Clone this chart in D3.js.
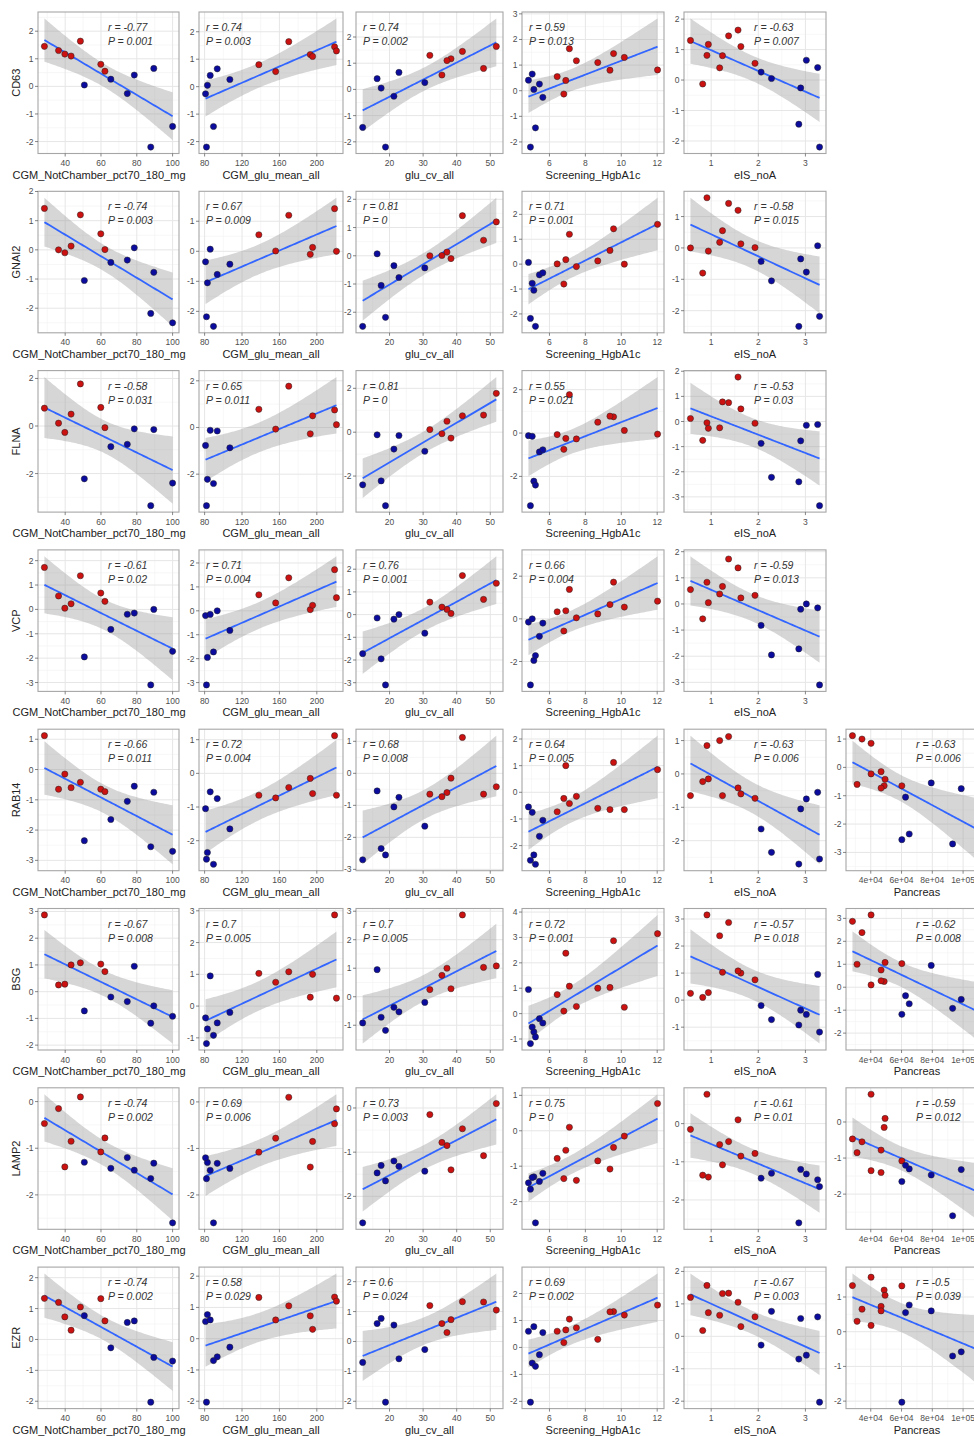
<!DOCTYPE html>
<html>
<head>
<meta charset="utf-8">
<script src="https://cdn.jsdelivr.net/npm/d3@7"></script>
<style>
  body { margin: 0; background: #fff; }
  svg { font-family: "Liberation Sans", Arial, sans-serif; }
</style>
</head>
<body>
<div id="chart"></div>
<script>
// 17 subjects: S1..S10 (red group), B1..B7 (blue group)
const subjects = ["S1","S2","S3","S4","S5","S6","S7","S8","S9","S10","B1","B2","B3","B4","B5","B6","B7"];
const group = ["red","red","red","red","red","red","red","red","red","red","blue","blue","blue","blue","blue","blue","blue"];

// clinical variables (null = not measured)
const pct70    = [28.4, 36.3, 39.8, 43.3, 48.5, 59.9, 62.2, null, null, null, 50.7, 65.5, 74.7, 78.6, 89.5, 87.8, 100];
const gluMean  = [219, 221, 193, 195.5, 170, 138, 156, null, null, null, 83, 107, 81, 86, 93.5, 82, 89.5];
const gluCv    = [41.7, 32.0, 38.3, 37.1, 51.8, 48.0, 35.6, null, null, null, 17.5, 30.5, 21.3, 16.3, 22.8, 18.8, 12.0];
const hba1c    = [9.57, 10.17, 7.5, 8.69, 7.11, 9.37, 6.43, 6.8, 6.91, 12.02, 5.13, 5.44, 5.63, 4.83, 5.04, 4.94, 5.22];
const eisNoA   = [1.37, 0.56, 0.94, 1.63, 1.57, 1.24, 1.93, 0.82, 1.18, 0.91, 2.28, 2.06, 2.9, 3.26, 3.02, 3.3, 2.86];
const pancreas = [28100, 48700, 46700, 31100, 49300, 60200, 46700, 40200, 34300, 40200, 65000, 112000, 62600, 79300, 98800, 60200, 93200];

// gene expression, same subject order
const CD63  = [1.45, 1.30, 1.17, 1.10, 1.64, 0.80, 0.55, -0.13, 0.40, 0.81, 0.05, 0.26, -0.26, 0.41, 0.65, -2.2, -1.45];
const GNAI2 = [1.42, 0.0, -0.1, 0.13, 1.2, 0.55, 0.01, -0.8, 0.18, 1.6, -1.05, -0.43, -0.35, 0.07, -0.77, -2.18, -2.5];
const FLNA  = [0.75, 0.12, -0.27, 0.5, 1.77, 0.78, -0.07, -0.75, -0.25, -0.05, -2.22, -0.87, -0.77, -0.12, -0.15, -3.35, -2.4];
const VCP   = [1.72, 0.55, 0.05, 0.23, 1.38, 0.67, 0.33, -0.57, 0.38, 0.83, -1.95, -0.82, -0.2, -0.15, 0.0, -3.1, -1.72];
const RAB14 = [1.12, -0.65, -0.15, -0.6, -0.42, -0.65, -0.73, -0.23, 1.0, 0.85, -2.35, -1.65, -1.05, -0.55, -0.75, -2.55, -2.7];
const BSG   = [2.87, 0.25, 0.28, 1.0, 1.08, 1.03, 0.75, 0.1, 2.38, 3.15, -0.72, -0.2, -0.37, 0.95, -0.53, -1.18, -0.92];
const LAMP2 = [-0.47, -0.15, -1.4, -0.85, 0.1, -1.08, -0.78, -1.35, -0.55, 0.77, -1.3, -1.43, -1.2, -1.47, -1.32, -1.65, -2.6];
const EZR   = [1.33, 1.2, 0.73, 0.3, 1.05, 1.32, 0.6, 0.18, 0.65, 1.57, 0.77, -0.27, 0.55, 0.6, -0.58, -2.03, -0.7];

const geneNames = ["CD63", "GNAI2", "FLNA", "VCP", "RAB14", "BSG", "LAMP2", "EZR"];
const genes = [CD63, GNAI2, FLNA, VCP, RAB14, BSG, LAMP2, EZR];

const varNames = ["CGM_NotChamber_pct70_180_mg", "CGM_glu_mean_all", "glu_cv_all", "Screening_HgbA1c", "eIS_noA", "Pancreas"];
const vars = [pct70, gluMean, gluCv, hba1c, eisNoA, pancreas];
const xTicks = [[40, 60, 80, 100], [80, 120, 160, 200], [20, 30, 40, 50], [6, 8, 10, 12], [1, 2, 3], [40000, 60000, 80000, 100000]];
const xTickLabels = [["40","60","80","100"], ["80","120","160","200"], ["20","30","40","50"], ["6","8","10","12"], ["1","2","3"], ["4e+04","6e+04","8e+04","1e+05"]];

// printed stats, one row per gene ("" = no panel)
const rText = [
  ["-0.77", "0.74", "0.74", "0.59", "-0.63", ""],
  ["-0.74", "0.67", "0.81", "0.71", "-0.58", ""],
  ["-0.58", "0.65", "0.81", "0.55", "-0.53", ""],
  ["-0.61", "0.71", "0.76", "0.66", "-0.59", ""],
  ["-0.66", "0.72", "0.68", "0.64", "-0.63", "-0.63"],
  ["-0.67", "0.7", "0.7", "0.72", "-0.57", "-0.62"],
  ["-0.74", "0.69", "0.73", "0.75", "-0.61", "-0.59"],
  ["-0.74", "0.58", "0.6", "0.69", "-0.67", "-0.5"]
];
const pText = [
  ["0.001", "0.003", "0.002", "0.013", "0.007", ""],
  ["0.003", "0.009", "0", "0.001", "0.015", ""],
  ["0.031", "0.011", "0", "0.021", "0.03", ""],
  ["0.02", "0.004", "0.001", "0.004", "0.013", ""],
  ["0.011", "0.004", "0.008", "0.005", "0.006", "0.006"],
  ["0.008", "0.005", "0.005", "0.001", "0.018", "0.008"],
  ["0.002", "0.006", "0.003", "0", "0.01", "0.012"],
  ["0.002", "0.029", "0.024", "0.002", "0.003", "0.039"]
];
// panels where the y axis uses steps of 2
const yStep2 = [[2, 0], [2, 1], [2, 2], [2, 3], [3, 3]];

const W = 974, H = 1436;
const colLeft = [38, 199, 356, 522, 684, 846];
const colRight = [179, 343, 503, 664, 826, 988];
const rowTop0 = 12, rowGap = 179.3, panelH = 141.5;

const tQuant = { 12: 2.1788, 13: 2.1604, 14: 2.1448, 15: 2.1314, 16: 2.1199 };

const svg = d3.select("#chart").append("svg")
  .attr("width", W).attr("height", H)
  .attr("viewBox", `0 0 ${W} ${H}`);

// lm fit with 95% confidence band, 80 points like geom_smooth
function fit(pts) {
  const n = pts.length;
  const mx = d3.mean(pts, d => d.x), my = d3.mean(pts, d => d.y);
  const sxx = d3.sum(pts, d => (d.x - mx) ** 2);
  const sxy = d3.sum(pts, d => (d.x - mx) * (d.y - my));
  const b = sxy / sxx, a = my - b * mx;
  const s2 = d3.sum(pts, d => (d.y - a - b * d.x) ** 2) / (n - 2);
  const t = tQuant[n - 2] || 2.13;
  const [x0, x1] = d3.extent(pts, d => d.x);
  return d3.range(80).map(i => {
    const x = x0 + (x1 - x0) * i / 79;
    const yh = a + b * x;
    const se = Math.sqrt(s2 * (1 / n + (x - mx) ** 2 / sxx));
    return { x, y: yh, lo: yh - t * se, hi: yh + t * se };
  });
}

function drawPanel(ri, ci) {
  const top = rowTop0 + ri * rowGap, bottom = top + panelH;
  const left = colLeft[ci], right = colRight[ci];
  const xv = vars[ci], yv = genes[ri];

  const pts = [];
  xv.forEach((x, i) => { if (x != null) pts.push({ x, y: yv[i], g: group[i] }); });
  const band = fit(pts);

  const xe = d3.extent(pts, d => d.x);
  const xr = xe[1] - xe[0];
  const x = d3.scaleLinear().domain([xe[0] - 0.05 * xr, xe[1] + 0.05 * xr]).range([left, right]);
  const ylo = Math.min(d3.min(pts, d => d.y), d3.min(band, d => d.lo));
  const yhi = Math.max(d3.max(pts, d => d.y), d3.max(band, d => d.hi));
  const yr = yhi - ylo;
  const y = d3.scaleLinear().domain([ylo - 0.05 * yr, yhi + 0.05 * yr]).range([bottom, top]);

  const g = svg.append("g");
  const clipId = "clip" + ri + "_" + ci;
  g.append("clipPath").attr("id", clipId)
    .append("rect").attr("x", left).attr("y", top).attr("width", right - left).attr("height", panelH);

  g.append("rect").attr("x", left).attr("y", top).attr("width", right - left).attr("height", panelH)
    .attr("fill", "#fff");

  // grid
  const step = yStep2.some(d => d[0] === ri && d[1] === ci) ? 2 : 1;
  const yDom = y.domain();
  const yMaj = d3.range(Math.ceil(yDom[0] / step) * step, yDom[1] + 1e-9, step);
  const yMin = d3.range(Math.ceil(yDom[0] / step - 0.5) * step + step / 2, yDom[1], step);
  const xt = xTicks[ci];
  const xs = xt[1] - xt[0];
  const xDom = x.domain();
  const xMin = [];
  for (let v = xt[0] - xs * Math.ceil((xt[0] - xDom[0]) / xs) + xs / 2; v < xDom[1]; v += xs) {
    if (v > xDom[0]) xMin.push(v);
  }
  const grid = g.append("g").attr("clip-path", `url(#${clipId})`);
  grid.selectAll(".ymin").data(yMin).join("line")
    .attr("x1", left).attr("x2", right).attr("y1", d => y(d)).attr("y2", d => y(d))
    .attr("stroke", "#f2f2f2").attr("stroke-width", 0.6);
  grid.selectAll(".xmin").data(xMin).join("line")
    .attr("y1", top).attr("y2", bottom).attr("x1", d => x(d)).attr("x2", d => x(d))
    .attr("stroke", "#f2f2f2").attr("stroke-width", 0.6);
  grid.selectAll(".ymaj").data(yMaj).join("line")
    .attr("x1", left).attr("x2", right).attr("y1", d => y(d)).attr("y2", d => y(d))
    .attr("stroke", "#e6e6e6").attr("stroke-width", 1);
  grid.selectAll(".xmaj").data(xt).join("line")
    .attr("y1", top).attr("y2", bottom).attr("x1", d => x(d)).attr("x2", d => x(d))
    .attr("stroke", "#e6e6e6").attr("stroke-width", 1);

  // smoother
  const plot = g.append("g").attr("clip-path", `url(#${clipId})`);
  plot.append("path").datum(band)
    .attr("d", d3.area().x(d => x(d.x)).y0(d => y(d.lo)).y1(d => y(d.hi)))
    .attr("fill", "#999").attr("fill-opacity", 0.4);
  plot.append("path").datum(band)
    .attr("d", d3.line().x(d => x(d.x)).y(d => y(d.y)))
    .attr("fill", "none").attr("stroke", "#3366ff").attr("stroke-width", 1.8);

  plot.selectAll("circle").data(pts).join("circle")
    .attr("cx", d => x(d.x)).attr("cy", d => y(d.y)).attr("r", 3.1)
    .attr("fill", d => d.g === "red" ? "#cc1111" : "#0b0b9e")
    .attr("stroke", "#222").attr("stroke-width", 0.5);

  // border
  g.append("rect").attr("x", left).attr("y", top).attr("width", right - left).attr("height", panelH)
    .attr("fill", "none").attr("stroke", "#a6a6a6").attr("stroke-width", 1.1);

  // axes
  g.selectAll(".xtick").data(xt).join("line")
    .attr("x1", d => x(d)).attr("x2", d => x(d)).attr("y1", bottom).attr("y2", bottom + 3)
    .attr("stroke", "#555").attr("stroke-width", 0.7);
  g.selectAll(".xlab").data(xt).join("text")
    .attr("x", d => x(d)).attr("y", bottom + 12.5)
    .attr("text-anchor", "middle").attr("font-size", 8.5).attr("fill", "#4d4d4d")
    .text((d, i) => xTickLabels[ci][i]);
  g.selectAll(".ytick").data(yMaj).join("line")
    .attr("x1", left - 3).attr("x2", left).attr("y1", d => y(d)).attr("y2", d => y(d))
    .attr("stroke", "#555").attr("stroke-width", 0.7);
  g.selectAll(".ylab").data(yMaj).join("text")
    .attr("x", left - 4.5).attr("y", d => y(d) + 3)
    .attr("text-anchor", "end").attr("font-size", 8.5).attr("fill", "#4d4d4d")
    .text(d => String(Math.round(d)));

  const tx = ci === 0 ? 99 : (left + right) / 2;
  g.append("text").attr("x", tx).attr("y", bottom + 25)
    .attr("text-anchor", "middle").attr("font-size", 11).attr("fill", "#222")
    .text(varNames[ci]);

  if (ci === 0) {
    g.append("text")
      .attr("transform", `translate(20,${(top + bottom) / 2}) rotate(-90)`)
      .attr("text-anchor", "middle").attr("font-size", 11).attr("fill", "#222")
      .text(geneNames[ri]);
  }

  // r and P
  const neg = rText[ri][ci].startsWith("-");
  const ax = neg ? left + 70 : left + 7;
  g.append("text").attr("x", ax).attr("y", top + 19)
    .attr("font-size", 10.5).attr("font-style", "italic").attr("fill", "#333")
    .text("r = " + rText[ri][ci]);
  g.append("text").attr("x", ax).attr("y", top + 33)
    .attr("font-size", 10.5).attr("font-style", "italic").attr("fill", "#333")
    .text("P = " + pText[ri][ci]);
}

geneNames.forEach((gname, ri) => {
  varNames.forEach((vname, ci) => {
    if (rText[ri][ci] !== "") drawPanel(ri, ci);
  });
});
</script>
</body>
</html>
